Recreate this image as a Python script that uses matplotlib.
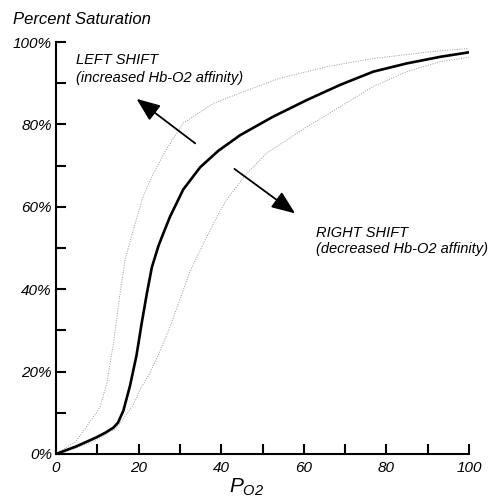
import matplotlib
matplotlib.use("Agg")
import matplotlib.pyplot as plt
from matplotlib.ticker import MultipleLocator, FuncFormatter

plt.rcParams['font.family'] = ['Liberation Sans', 'DejaVu Sans']
plt.rcParams['font.style'] = 'italic'
plt.rcParams['mathtext.fontset'] = 'custom'
plt.rcParams['mathtext.it'] = 'Liberation Sans:italic'
plt.rcParams['mathtext.rm'] = 'Liberation Sans:italic'

# normal curve
po2 = [0, 4.8, 9.7, 12, 13.9, 15, 16.3, 17.9, 19.5, 20.7, 22, 23.2, 24.8, 26,
       27.6, 30.8, 34.9, 39.3, 44.6, 52.6, 60.7, 68.8, 76.8, 84.9, 93, 100]
sat = [0, 1.8, 4.0, 5.2, 6.4, 7.6, 10.5, 16.5, 24, 31.5, 39, 45.3, 50.5, 53.6,
       57.6, 64.2, 69.6, 73.6, 77.4, 81.9, 85.9, 89.6, 92.8, 94.8, 96.4, 97.5]

# left shifted curve
po2_left = [0, 4.8, 9.7, 10.7, 12.3, 13.9, 15.5, 16.7, 18.7, 21.1, 23.6, 26.4,
            30.8, 38.1, 45.5, 54.2, 60.7, 65.5, 76.8, 93, 100]
sat_left = [0, 3, 9.9, 11.5, 17.2, 26.9, 39, 47.1, 54.4, 62.5, 68.1, 73.4,
            80.3, 85.1, 88, 91.2, 92.8, 94, 96, 97.9, 98.4]

# right shifted curve
po2_right = [0, 4.8, 9.7, 14.5, 16.3, 18.6, 20.3, 22.8, 24.4, 27.6, 30, 32.4,
             35.7, 39.3, 41.3, 46.2, 51, 60.7, 68.8, 76.8, 84.9, 93, 100]
sat_right = [0, 1.4, 3.4, 6.2, 8.6, 11.8, 15.5, 19.8, 23.2, 30.8, 37.5, 44.2,
             51.1, 58.2, 61.7, 68.1, 73, 79.4, 84.3, 89.2, 92.8, 95.2, 96.3]

fig = plt.figure(figsize=(4.88, 4.99), dpi=100)
ax = fig.add_axes([0.1148, 0.0902, 0.9611 - 0.1148, 0.9158 - 0.0902])

ax.plot(po2_left, sat_left, color='#999999', lw=0.7, ls=(0, (1, 1.5)))
ax.plot(po2_right, sat_right, color='#999999', lw=0.7, ls=(0, (1, 1.5)))
ax.plot(po2, sat, color='black', lw=1.9, solid_joinstyle='round')

ax.set_xlim(0, 100)
ax.set_ylim(0, 100)
for s in ['top', 'right']:
    ax.spines[s].set_visible(False)
for s in ['left', 'bottom']:
    ax.spines[s].set_linewidth(1.5)

ax.xaxis.set_major_locator(MultipleLocator(20))
ax.xaxis.set_minor_locator(MultipleLocator(10))
ax.yaxis.set_major_locator(MultipleLocator(20))
ax.yaxis.set_minor_locator(MultipleLocator(10))
ax.yaxis.set_major_formatter(FuncFormatter(lambda v, p: '%d%%' % v))
ax.tick_params(which='both', direction='in', length=7, width=1.5, labelsize=11)
ax.tick_params(axis='x', pad=5)
ax.tick_params(axis='y', pad=3)

fig.text(13 / 488, 1 - 20 / 499, 'Percent Saturation', fontsize=12, va='center', ha='left')


def px(x, y):
    return ((x - 56) / 4.13, (454 - y) / 4.12)


ax.text(*px(76, 60), 'LEFT SHIFT', fontsize=10.5, va='center', ha='left')
ax.text(*px(76, 78), '(increased Hb-O2 affinity)', fontsize=10.5, va='center', ha='left')
ax.text(*px(316, 233), 'RIGHT SHIFT', fontsize=10.5, va='center', ha='left')
ax.text(*px(316, 249), '(decreased Hb-O2 affinity)', fontsize=10.5, va='center', ha='left',
        clip_on=False)

arrow = dict(arrowstyle='-|>,head_length=0.4,head_width=0.16', mutation_scale=36,
             lw=1.3, color='black', shrinkA=0, shrinkB=0)
ax.annotate('', xy=(19.5, 86.2), xytext=(33.7, 75.4), arrowprops=arrow)
ax.annotate('', xy=(57.9, 58.4), xytext=(43.2, 69.2), arrowprops=arrow)

fig.text(247 / 488, 1 - 487 / 499, r'$P_{O2}$', fontsize=15, ha='center', va='center')

fig.savefig('out.png', dpi=100)
